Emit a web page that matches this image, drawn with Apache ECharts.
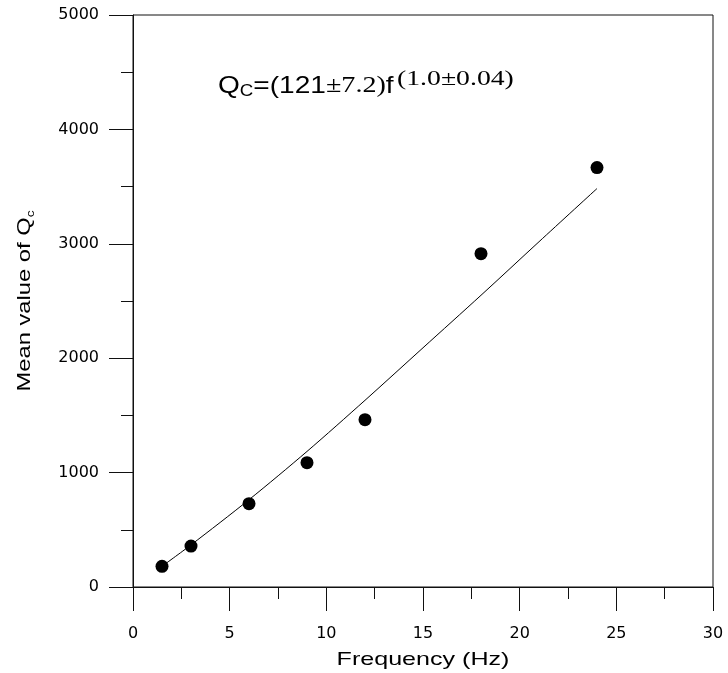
<!DOCTYPE html>
<html><head><meta charset="utf-8">
<script src="https://cdn.jsdelivr.net/npm/echarts@6/dist/echarts.min.js"></script>
<style>html,body{margin:0;padding:0;background:#fff}#c{width:728px;height:673px}</style>
</head><body><div id="c"></div>
<script>
// Observed points: mean Qc at each centre frequency
const freq = [1.5, 3, 6, 9, 12, 18, 24];
const qcMean = [181, 358, 728, 1087, 1463, 2914, 3666];
// Fitted curve
const fitFreq = [1.5, 3, 6, 9, 12, 15, 18, 21, 24];
const fitQc = [181, 368, 763, 1185, 1632, 2091, 2550, 3018, 3483];
// Axis ticks
const xTicks = [0, 5, 10, 15, 20, 25, 30];
const yTicks = [0, 1000, 2000, 3000, 4000, 5000];
// Texts
const xTitle = 'Frequency (Hz)';
const yTitle = 'Mean value of Q';
const yTitleSub = 'c';

const sans = '"Liberation Sans", Arial, sans-serif';
const wide = '"DejaVu Sans", sans-serif';
const serif = '"Liberation Serif", "Times New Roman", serif';
const axisColor = '#111';

const chart = echarts.init(document.getElementById('c'), null, {renderer: 'canvas'});
chart.setOption({
  animation: false,
  backgroundColor: '#fff',
  grid: {left: 133, right: 15, top: 15, bottom: 86, show: true, borderColor: axisColor, borderWidth: 1, backgroundColor: 'transparent'},
  xAxis: {
    type: 'value', min: xTicks[0], max: xTicks[xTicks.length - 1], interval: xTicks[1] - xTicks[0],
    axisLine: {show: true, onZero: false, lineStyle: {color: axisColor, width: 1}},
    axisTick: {show: true, inside: false, length: 24, lineStyle: {color: axisColor}},
    minorTick: {show: true, splitNumber: 2, length: 12, lineStyle: {color: axisColor}},
    axisLabel: {margin: 39, fontFamily: wide, fontSize: 16, color: '#000', formatter: v => String(v)},
    splitLine: {show: false}
  },
  yAxis: {
    type: 'value', min: yTicks[0], max: yTicks[yTicks.length - 1], interval: yTicks[1] - yTicks[0],
    axisLine: {show: true, onZero: false, lineStyle: {color: axisColor, width: 1}},
    axisTick: {show: true, inside: false, length: 24, lineStyle: {color: axisColor}},
    minorTick: {show: true, splitNumber: 2, length: 12, lineStyle: {color: axisColor}},
    axisLabel: {margin: 34, fontFamily: wide, fontSize: 16, color: '#000', formatter: v => String(v)},
    splitLine: {show: false}
  },
  series: [
    {
      type: 'line', data: fitFreq.map((f, i) => [f, fitQc[i]]),
      smooth: 0.3, showSymbol: false, lineStyle: {color: '#000', width: 1}, z: 2
    },
    {
      type: 'scatter', data: freq.map((f, i) => [f, qcMean[i]]),
      symbol: 'circle', symbolSize: 13, itemStyle: {color: '#000', opacity: 1}, z: 3
    }
  ],
  graphic: [
    {
      type: 'text', x: 423, y: 660, scaleX: 1.32,
      style: {text: xTitle, fontFamily: sans, fontSize: 19, fill: '#000', align: 'center', verticalAlign: 'middle'}
    },
    {
      type: 'text', x: 25, y: 301, rotation: Math.PI / 2, scaleX: 1.25,
      style: {
        text: '{n|' + yTitle + '}{s|' + yTitleSub + '}', align: 'center', verticalAlign: 'middle',
        rich: {
          n: {fontFamily: sans, fontSize: 19, fill: '#000'},
          s: {fontFamily: sans, fontSize: 11, fill: '#000', padding: [12, 0, 0, 0]}
        }
      }
    },
    {
      type: 'text', x: 218, y: 86, scaleX: 1.17,
      style: {
        text: '{a|Q}{sub|C}{a|=(121}{b|±7.2)}{a|f}', align: 'left', verticalAlign: 'middle',
        rich: {
          a: {fontFamily: sans, fontSize: 24, fill: '#000'},
          b: {fontFamily: serif, fontSize: 24, fill: '#000'},
          sub: {fontFamily: sans, fontSize: 16, fill: '#000', padding: [12, 0, 0, 0]}
        }
      }
    },
    {
      type: 'text', x: 397, y: 79, scaleX: 1.26,
      style: {text: '(1.0±0.04)', fontFamily: serif, fontSize: 22, fill: '#000', align: 'left', verticalAlign: 'middle'}
    }
  ]
});
</script></body></html>
